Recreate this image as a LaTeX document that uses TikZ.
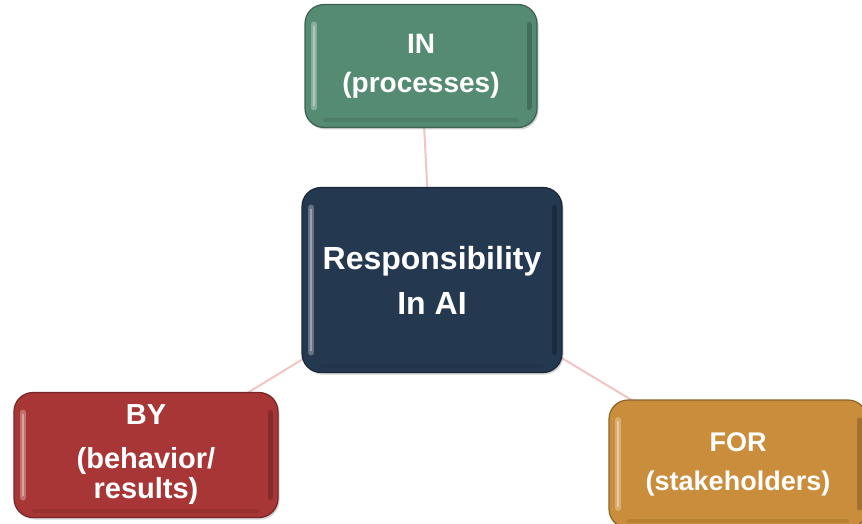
\documentclass[tikz,border=0pt]{standalone}
\usepackage{fontspec}
\setmainfont{Liberation Sans}
\usetikzlibrary{shadows,backgrounds}
\definecolor{ingreen}{HTML}{568B73}
\definecolor{navy}{HTML}{243850}
\definecolor{byred}{HTML}{A93636}
\definecolor{forgold}{HTML}{C98D3B}
\definecolor{linkpink}{HTML}{F2C4C4}
\tikzset{
  bevel/.style={rounded corners=19pt, fill=#1, draw=#1!70!black, line width=1.2pt,
    text=white, align=center, inner sep=0pt,
    drop shadow={opacity=0.35, shadow xshift=1.5pt, shadow yshift=-2pt},
    path picture={
      \draw[#1!35!white, line width=6pt, line cap=round, opacity=0.45]
        ([xshift=9pt,yshift=-20pt]path picture bounding box.north west) --
        ([xshift=9pt,yshift=20pt]path picture bounding box.south west);
      \draw[#1!30!white, line width=2pt, line cap=round, opacity=0.6]
        ([xshift=9pt,yshift=-22pt]path picture bounding box.north west) --
        ([xshift=9pt,yshift=22pt]path picture bounding box.south west);
      \draw[#1!60!black, line width=5pt, line cap=round, opacity=0.5]
        ([xshift=-8pt,yshift=-20pt]path picture bounding box.north east) --
        ([xshift=-8pt,yshift=20pt]path picture bounding box.south east);
      \draw[#1!80!black, line width=4pt, line cap=round, opacity=0.45]
        ([xshift=20pt,yshift=7pt]path picture bounding box.south west) --
        ([xshift=-20pt,yshift=7pt]path picture bounding box.south east);
    }},
  intext/.style={font=\bfseries\fontsize{28}{39}\selectfont},
  fortext/.style={font=\bfseries\fontsize{27}{39}\selectfont},
  bytext/.style={font=\bfseries\fontsize{29}{30}\selectfont},
  bigtext/.style={font=\bfseries\fontsize{32}{45}\selectfont},
  link/.style={draw=linkpink, line width=2pt}
}
\begin{document}
\begin{tikzpicture}[x=1pt,y=-1pt]
\useasboundingbox (0,0) rectangle (862,524);
\node[bevel=ingreen, intext, minimum width=232pt, minimum height=123pt] (in) at (421,66) {\raisebox{-3pt}{IN}\\\raisebox{-3pt}{(processes)}};
\node[bevel=navy, bigtext, minimum width=260pt, minimum height=185pt] (c) at (432,280) {Responsibility\\In AI};
\node[bevel=byred, bytext, minimum width=264pt, minimum height=125pt] (by) at (146,455) {\raisebox{-3pt}{BY}\\[14pt]\raisebox{-3pt}{(behavior/}\\\raisebox{-3pt}{results)}};
\node[bevel=forgold, fortext, minimum width=258pt, minimum height=128pt] (for) at (738,464) {\raisebox{-1pt}{FOR}\\\raisebox{-1pt}{(stakeholders)}};
\begin{pgfonlayer}{background}
\draw[link] (in.center) -- (c.center);
\draw[link] (c.center) -- (by.center);
\draw[link] (c.center) -- (for.center);
\end{pgfonlayer}
\end{tikzpicture}
\end{document}
